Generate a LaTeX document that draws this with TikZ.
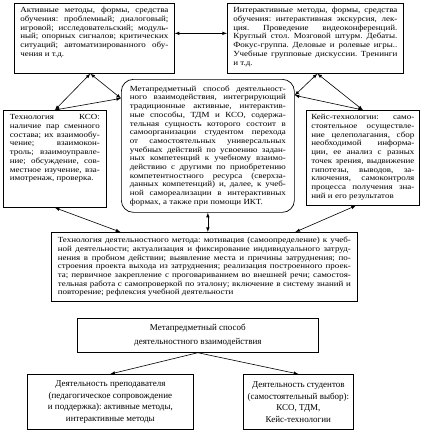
\documentclass[tikz,border=0pt]{standalone}
\usepackage{fontspec}
\setmainfont{Liberation Serif}
\newfontfamily\widefont[FakeStretch=1.15]{Liberation Serif}
\usepackage{tikz}
\usetikzlibrary{positioning, calc, arrows}

\tikzset{
    upbox/.style={draw, line width=0.7pt, anchor=north west, align=justify, inner xsep=6pt, inner ysep=3.5pt, font=\widefont\fontsize{7.8}{8.7}\selectfont},
    topfill/.style={text height=6pt, text depth=#1},
    lowbox/.style={draw, line width=0.7pt, anchor=north west, align=center, font=\fontsize{9}{11.5}\selectfont},
    link/.style={<->, >=latex, line width=0.6pt},
    onelink/.style={->, >=latex, line width=0.6pt}
}

\begin{document}
\frenchspacing
\begin{tikzpicture}[x=1pt, y=-1pt]
    \useasboundingbox (0,0) rectangle (425,436);

    \node[upbox, topfill=57pt, text width=148pt] (active) at (14,3)
        {Активные методы, формы, средства\linebreak обучения: проблемный; диалоговый;\linebreak игровой; исследовательский; модуль-\linebreak ный; опорных сигналов; критических\linebreak ситуаций; автоматизированного обу-\linebreak чения и т.д.};
    \node[upbox, topfill=57pt, text width=164pt] (interactive) at (227,3)
        {Интерактивные методы, формы, средства\linebreak обучения: интерактивная экскурсия, лек-\linebreak ция. Проведение видеоконференций.\linebreak Круглый стол. Мозговой штурм. Дебаты.\linebreak Фокус-группа. Деловые и ролевые игры..\linebreak Учебные групповые дискуссии. Тренинги\linebreak и т.д.};
    \node[upbox, rounded corners=12pt, inner xsep=8.5pt, text width=156pt, minimum height=133pt] (meta) at (121,79)
        {Метапредметный способ деятельност-\linebreak ного взаимодействия, интегрирующий\linebreak традиционные активные, интерактив-\linebreak ные способы, ТДМ и КСО, содержа-\linebreak тельная сущность которого состоит в\linebreak самоорганизации студентом перехода\linebreak от самостоятельных универсальных\linebreak учебных действий по усвоению задан-\linebreak ных компетенций к учебному взаимо-\linebreak действию с другими по приобретению\linebreak компетентностного ресурса (сверхза-\linebreak данных компетенций) и, далее, к учеб-\linebreak ной самореализации в интерактивных\linebreak формах, а также при помощи ИКТ.};
    \node[upbox, topfill=84pt, inner xsep=6.5pt, text width=90pt] (kso) at (3,110)
        {Технология КСО:\linebreak наличие пар сменного\linebreak состава; их взаимообу-\linebreak чение; взаимокон-\linebreak троль; взаимоуправле-\linebreak ние; обсуждение, сов-\linebreak местное изучение, вза-\linebreak имотренаж, проверка.};
    \node[upbox, topfill=82pt, inner xsep=5pt, text width=103pt] (case) at (306,110)
        {Кейс-технологии: само-\linebreak стоятельное осуществле-\linebreak ние целеполагания, сбор\linebreak необходимой информа-\linebreak ции, ее анализ с разных\linebreak точек зрения, выдвижение\linebreak гипотезы, выводов, за-\linebreak ключения, самоконтроля\linebreak процесса получения зна-\linebreak ний и его результатов};
    \node[upbox, inner xsep=6.5pt, text width=293pt, minimum height=69pt] (tdm) at (51,232)
        {Технология деятельностного метода: мотивация (самоопределение) к учеб-\linebreak ной деятельности; актуализация и фиксирование индивидуального затруд-\linebreak нения в пробном действии; выявление места и причины затруднения; по-\linebreak строения проекта выхода из затруднения; реализация построенного проек-\linebreak та; первичное закрепление с проговариванием во внешней речи; самостоя-\linebreak тельная работа с самопроверкой по эталону; включение в систему знаний и\linebreak повторение; рефлексия учебной деятельности};

    \node[lowbox, font=\fontsize{9}{13.5}\selectfont, minimum width=241pt, minimum height=34pt] (way) at (77,318)
        {Метапредметный способ\\деятельностного взаимодействия};
    \node[lowbox, minimum width=166pt, minimum height=55pt] (teacher) at (27,374)
        {Деятельность преподавателя\\(педагогическое сопровождение\\и поддержка): активные методы,\\интерактивные методы};
    \node[lowbox, minimum width=110pt, minimum height=55pt] (students) at (243,374)
        {Деятельность студентов\\(самостоятельный выбор):\\КСО, ТДМ,\\Кейс-технологии};

    \draw[link] ([yshift=5pt]active.east) -- ([yshift=5pt]interactive.west);
    \draw[link] ([xshift=-4pt]active.south) -- (kso.north);
    \draw[link] ([xshift=-4pt]active.south) -- ([yshift=47.5pt]meta.west);
    \draw[link] (kso.north) -- ([yshift=47.5pt]meta.west);
    \draw[link] ([xshift=2pt]interactive.south) -- ([yshift=50.5pt]meta.east);
    \draw[link] ([xshift=2pt]interactive.south) -- (case.north);
    \draw[link] ([yshift=50.5pt]meta.east) -- (case.north);
    \draw[link] (kso.south) -- ([xshift=-84pt]tdm.north);
    \draw[link] (meta.south) -- (meta.south |- tdm.north);
    \draw[link] ([xshift=-7pt]case.south) -- ([xshift=91pt]tdm.north);
    \draw[onelink] (way.south) -- (teacher.north);
    \draw[onelink] (way.south) -- (students.north);
\end{tikzpicture}
\end{document}
